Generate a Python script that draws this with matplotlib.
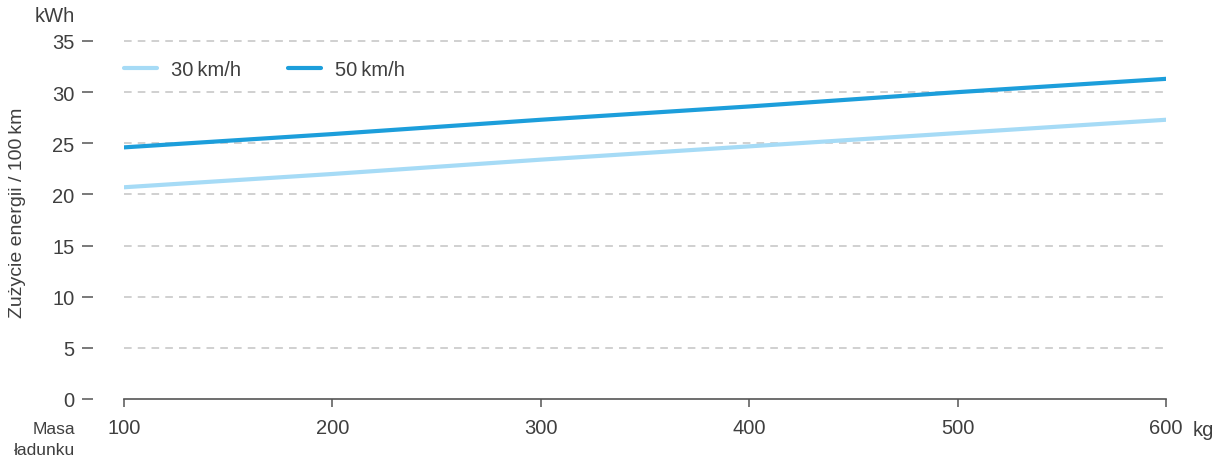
import matplotlib.pyplot as plt

# Zużycie energii w zależności od masy ładunku
masa = [100, 200, 300, 400, 500, 600]
v30 = [20.7, 22.0, 23.4, 24.7, 26.0, 27.3]
v50 = [24.6, 25.9, 27.3, 28.6, 30.0, 31.3]
y_ticks = [0, 5, 10, 15, 20, 25, 30, 35]
x_labels = ["100", "200", "300", "400", "500", "600"]

plt.rcParams['font.family'] = ['Liberation Sans', 'DejaVu Sans']
txt = '#3f3f3f'
fs = 14.5

fig = plt.figure(figsize=(12.23, 4.64), dpi=100)
ax = fig.add_axes([124 / 1223, 64 / 464, (1166 - 124) / 1223, (400 - 42) / 464])

ax.plot(masa, v30, color='#a6dbf6', lw=3.0, solid_capstyle='round', label='30\u2009km/h')
ax.plot(masa, v50, color='#1c9edb', lw=3.0, solid_capstyle='round', label='50\u2009km/h')

ax.set_xlim(100, 600)
ax.set_ylim(0, 35)
ax.set_yticks(y_ticks)
ax.set_xticks(masa)
ax.set_xticklabels(x_labels)

# przerywane linie siatki
for y in y_ticks[1:]:
    ax.axhline(y, color='#c4c4c4', lw=1.1, ls=(0, (5, 4)), zorder=0, clip_on=False)

for s in ['top', 'right']:
    ax.spines[s].set_visible(False)
ax.spines['left'].set_position(('outward', 22.3))
ax.spines['left'].set_visible(False)
ax.spines['bottom'].set_color('#555555')
ax.spines['bottom'].set_linewidth(1.2)

ax.tick_params(axis='y', length=8, width=1.1, color='#555555', pad=5.5,
               labelsize=fs, labelcolor=txt)
ax.tick_params(axis='x', length=6, width=1.1, color='#555555', pad=8,
               labelsize=fs, labelcolor=txt)

# jednostka przy ostatniej etykiecie osi x
ax.annotate('kg', xy=(600, 0), xycoords='data', xytext=(19.4, -22),
            textcoords='offset points', ha='left', va='center',
            fontsize=fs, color=txt)

fig.text(75 / 1223, 1 - 16 / 464, 'kWh', ha='right', va='center', fontsize=fs, color=txt)
fig.text(75 / 1223, 1 - 440 / 464, 'Masa\nładunku', ha='right', va='center',
         fontsize=12.5, color=txt, linespacing=1.45)
fig.text(18 / 1223, 1 - 213 / 464, 'Zużycie energii / 100\u2009km', rotation=90,
         ha='center', va='center', fontsize=14, color=txt)

ax.legend(loc='center left', bbox_to_anchor=(0.0, 1 - (71 - 42) / 358), ncol=2,
          frameon=False, fontsize=fs, labelcolor=txt, handlelength=1.65,
          handletextpad=0.7, columnspacing=2.3, borderaxespad=0, borderpad=0)

fig.savefig('out.png', dpi=100)
